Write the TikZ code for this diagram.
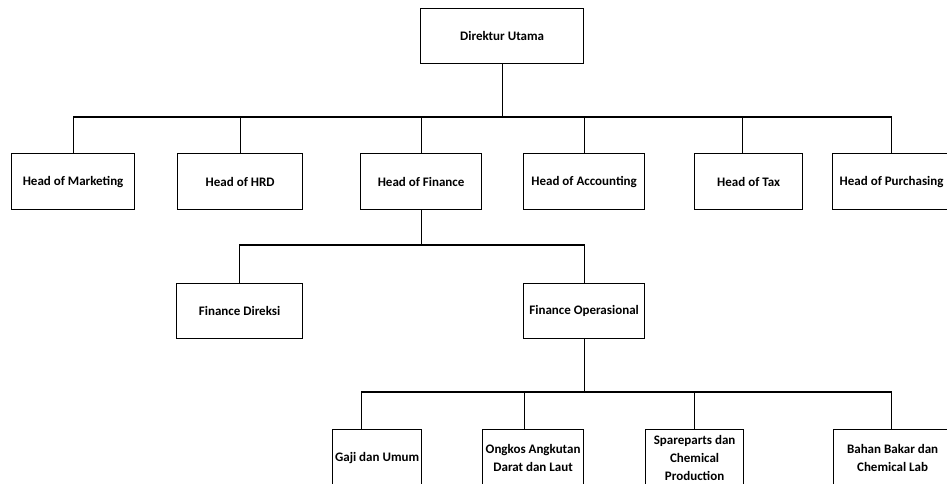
\documentclass[tikz,border=0pt]{standalone}
\usepackage{fontspec}
\setmainfont{Carlito}
\begin{document}
\begin{tikzpicture}[x=1pt,y=-1pt,
  box/.style={draw, line width=1.2pt, inner sep=0pt, anchor=north west,
    font=\bfseries\fontsize{13}{18}\selectfont, align=center},
  conn/.style={line width=1.2pt}]
\useasboundingbox (0,0) rectangle (947,484);
\clip (0,0) rectangle (947,484);
% level 1
\node[box, minimum width=163pt, minimum height=55pt] (dir) at (420,8) {Direktur Utama};
% level 2
\node[box, minimum width=123pt, minimum height=56pt] (mkt) at (11,153) {Head of Marketing};
\node[box, minimum width=125pt, minimum height=56pt] (hrd) at (177,153) {Head of HRD};
\node[box, minimum width=121pt, minimum height=56pt] (fin) at (360,153) {Head of Finance};
\node[box, minimum width=121pt, minimum height=56pt] (acc) at (523,153) {Head of Accounting};
\node[box, minimum width=108pt, minimum height=56pt] (tax) at (694,153) {Head of Tax};
\node[box, minimum width=118pt, minimum height=56pt] (pur) at (832,153) {Head of Purchasing};
% level 3
\node[box, minimum width=126pt, minimum height=55pt] (dirx) at (176,283) {Finance Direksi};
\node[box, minimum width=121pt, minimum height=55pt] (ops) at (523,283) {Finance Operasional};
% level 4 (bottom edges fall on the lower edge of the picture)
\node[box, minimum width=89pt, minimum height=56pt] (gaji) at (332,429) {Gaji dan Umum};
\node[box, minimum width=101pt, minimum height=56pt] (ongk) at (482,429) {Ongkos Angkutan\\Darat dan Laut};
\node[box, minimum width=98pt, minimum height=56pt] (spar) at (645,429) {Spareparts dan\\Chemical\\Production};
\node[box, minimum width=118pt, minimum height=56pt] (bahn) at (833,429) {Bahan Bakar dan\\Chemical Lab};
% connectors
\coordinate (bus1) at (0,117);
\coordinate (bus2) at (0,245);
\coordinate (bus3) at (0,392);
\draw[conn] (dir.south) -- (dir.south |- bus1);
\draw[conn] (mkt.north) |- (pur.north |- bus1) -- (pur.north);
\foreach \n in {hrd,fin,acc} \draw[conn] (\n.north) -- (\n.north |- bus1);
\draw[conn] ([xshift=-6pt]tax.north) -- ([xshift=-6pt]tax.north |- bus1);
\draw[conn] (fin.south) -- (fin.south |- bus2);
\draw[conn] (dirx.north) |- (ops.north |- bus2) -- (ops.north);
\draw[conn] (ops.south) -- (ops.south |- bus3);
\draw[conn] ([xshift=-16pt]gaji.north) |- ([xshift=-1pt]bahn.north |- bus3) -- ([xshift=-1pt]bahn.north);
\draw[conn] ([xshift=-9pt]ongk.north) -- ([xshift=-9pt]ongk.north |- bus3);
\draw[conn] (spar.north) -- (spar.north |- bus3);
\end{tikzpicture}
\end{document}
